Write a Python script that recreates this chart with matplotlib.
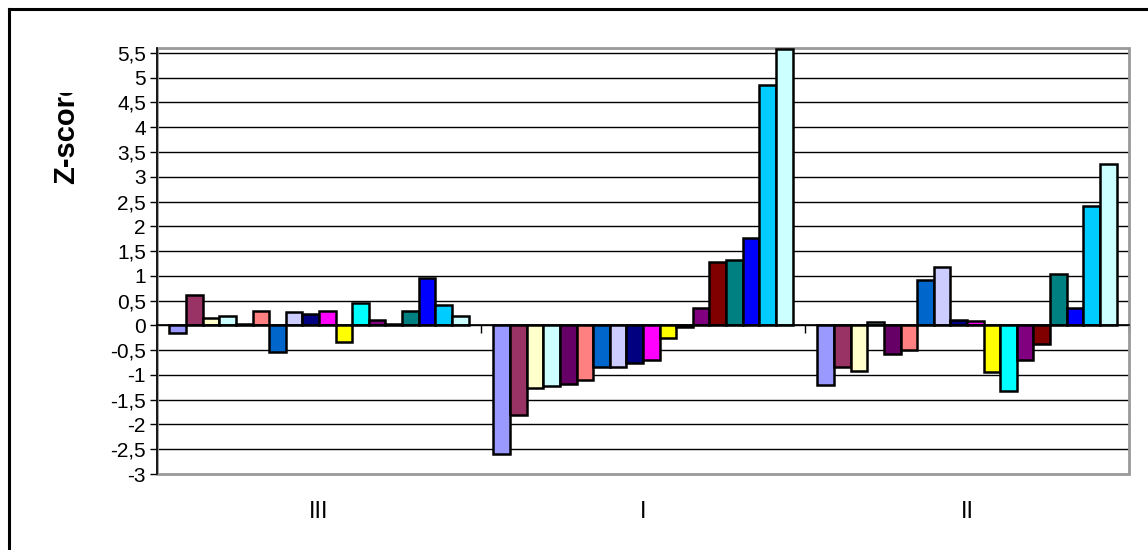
import matplotlib
matplotlib.use('Agg')
import matplotlib.pyplot as plt
from matplotlib.patches import Rectangle
from matplotlib.lines import Line2D
import numpy as np

plt.rcParams['font.family'] = ['Liberation Sans', 'DejaVu Sans']

categories = ['III', 'I', 'II']
colors = ['#9999FF', '#993366', '#FFFFCC', '#CCFFFF', '#660066', '#FF8080',
          '#0066CC', '#CCCCFF', '#000080', '#FF00FF', '#FFFF00', '#00FFFF',
          '#800080', '#800000', '#008080', '#0000FF', '#00CCFF', '#CCFFFF']

# one list per category, 18 series each
vals_III = [-0.15, 0.62, 0.14, 0.18, 0.03, 0.30, -0.54, 0.27, 0.22, 0.30,
            -0.33, 0.46, 0.10, 0.03, 0.30, 0.96, 0.42, 0.18]
vals_I = [-2.60, -1.80, -1.27, -1.23, -1.19, -1.10, -0.83, -0.83, -0.75, -0.70,
          -0.25, -0.03, 0.35, 1.28, 1.32, 1.77, 4.86, 5.58]
vals_II = [-1.20, -0.83, -0.92, 0.07, -0.58, -0.50, 0.92, 1.17, 0.10, 0.09,
           -0.95, -1.32, -0.70, -0.38, 1.03, 0.35, 2.42, 3.25]

yticks = np.arange(-3, 5.51, 0.5)

data = np.array([vals_III, vals_I, vals_II])
nser = data.shape[1]
w = 1.0 / (nser + 1.5)

fig = plt.figure(figsize=(11.48, 5.5), dpi=100)
ax = fig.add_axes([157/1148, 1-474/550, (1129-157)/1148, (474-48)/550])

for i in range(nser):
    x = np.arange(len(categories)) + 0.5 + (i - (nser - 1) / 2) * w
    ax.bar(x, data[:, i], width=w, color=colors[i], edgecolor='black',
           linewidth=1.8, zorder=2)

ax.set_xlim(0, 3)
ax.set_ylim(-3, 5.6)
ax.set_yticks(yticks)
ax.set_yticklabels([('%g' % v).replace('.', ',') for v in yticks], fontsize=15)
ax.yaxis.grid(True, color='black', linewidth=1)
ax.set_axisbelow(True)
ax.get_ygridlines()[0].set_visible(False)

ax.spines['bottom'].set_position(('data', 0))
ax.spines['bottom'].set_linewidth(1.2)
ax.spines['left'].set_linewidth(1.2)
ax.spines['top'].set_visible(False)
ax.spines['right'].set_visible(False)
ax.set_xticks([0, 1, 2, 3])
ax.set_xticklabels([])
ax.tick_params(axis='x', direction='out', length=6, width=1)
ax.tick_params(axis='y', direction='out', length=5, width=1, pad=3)

frame = Rectangle((0, 0), 1, 1, transform=ax.transAxes, fill=False,
                  edgecolor='#999999', linewidth=2, clip_on=False, zorder=1)
ax.add_patch(frame)

for k, c in enumerate(categories):
    ax.text(k + 0.5, -0.089, c, transform=ax.get_xaxis_transform(),
            ha='center', va='center', fontsize=17)

lab = fig.text(66/1148, 1-184/550, 'Z-score', rotation=90, ha='center',
               va='bottom', fontsize=21, fontweight='bold', clip_on=True)
lab.set_clip_path(Rectangle((0, 0), 0.2, 1-93/550, transform=fig.transFigure))

# outer chart border (only top and left are inside the picture)
top = 1 - 8.5/550
left = 8.5/1148
fig.add_artist(Line2D([left, 1.0], [top, top], transform=fig.transFigure,
                      color='black', linewidth=2.2))
fig.add_artist(Line2D([left, left], [0.0, top], transform=fig.transFigure,
                      color='black', linewidth=2.2))

plt.savefig('out.png')
